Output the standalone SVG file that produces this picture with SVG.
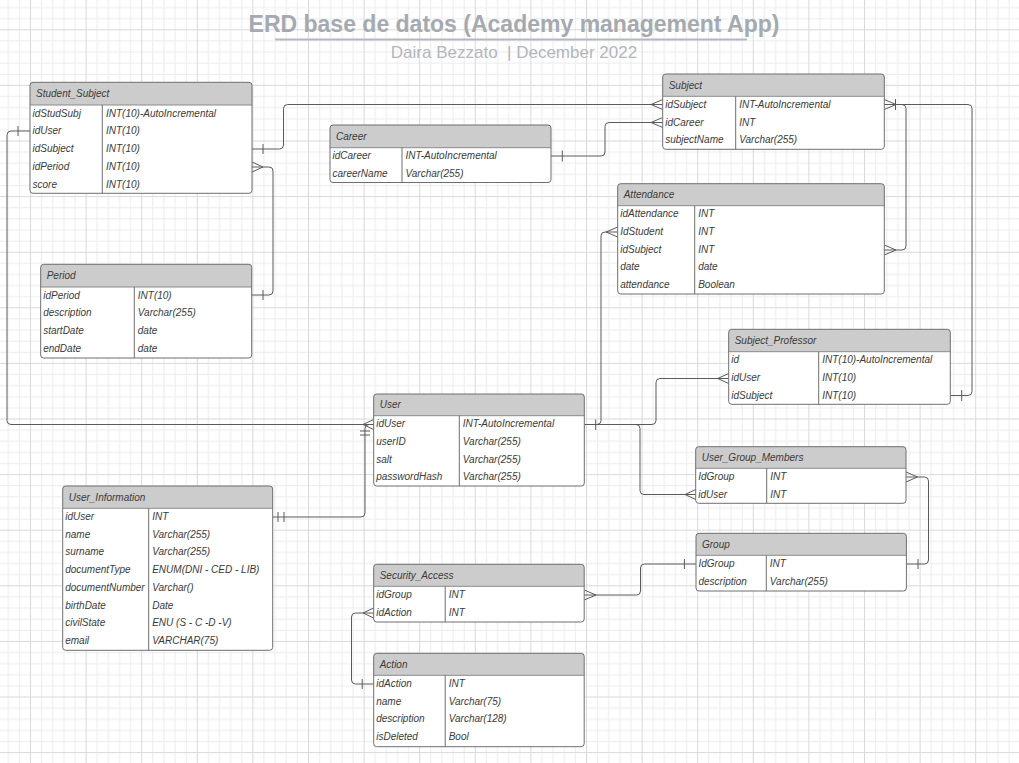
<svg xmlns="http://www.w3.org/2000/svg" width="1019" height="763" viewBox="0 0 1019 763">
<style>
.box{fill:#ffffff;stroke:none}
.frame{fill:none;stroke:#6e6e6e;stroke-width:1}
.hdr{fill:#cccccc}
.sep{stroke:#8a8a8a;stroke-width:1}
.col{stroke:#6e6e6e;stroke-width:1}
text{font-family:"Liberation Sans",Arial,sans-serif}
.h,.r{font-size:10px;font-style:italic;fill:#3a3a3a}
.conn path{fill:none;stroke:#5a5a5a;stroke-width:1}
.title{font-size:23px;font-weight:bold;fill:#a5a9b0}
.sub{font-size:17px;fill:#b2b6bd}
</style>
<defs>
<pattern id="grid" x="30" y="29.3" width="55.6" height="55.6" patternUnits="userSpaceOnUse">
<g fill="#ececec">
<rect x="11.12" y="0" width="1" height="55.6"/>
<rect x="22.24" y="0" width="1" height="55.6"/>
<rect x="33.36" y="0" width="1" height="55.6"/>
<rect x="44.48" y="0" width="1" height="55.6"/>
<rect x="0" y="11.12" width="55.6" height="1"/>
<rect x="0" y="22.24" width="55.6" height="1"/>
<rect x="0" y="33.36" width="55.6" height="1"/>
<rect x="0" y="44.48" width="55.6" height="1"/>
</g>
<g fill="#d9d9d9">
<rect x="0" y="0" width="1" height="55.6"/>
<rect x="0" y="0" width="55.6" height="1"/>
</g>
</pattern>
</defs>
<rect x="0" y="0" width="1019" height="763" fill="#ffffff"/>
<rect x="0" y="0" width="1019" height="763" fill="url(#grid)"/>

<g id="title">
<text class="title" x="514" y="32" text-anchor="middle">ERD base de datos (Academy management App)</text>
<line x1="275" y1="39.5" x2="747" y2="39.5" stroke="#b3b7bf" stroke-width="2"/>
<text class="sub" x="514" y="57.5" text-anchor="middle" xml:space="preserve">Daira Bezzato  | December 2022</text>
</g>

<g id="connectors" class="conn">
<!-- Student_Subject.idUser - User.idUser -->
<path d="M30,131 H11 Q7,131 7,135 V420.5 Q7,424.5 11,424.5 H373.7"/>
<path d="M18,126 V136"/>
<path d="M363,424.5 L373.7,419.5 M363,424.5 L373.7,429.5"/>
<!-- User_Information.idUser - User.idUser -->
<path d="M272.7,517 H361 Q365,517 365,513 V428.5 Q365,424.5 369,424.5 H373.7"/>
<path d="M278,512 V522 M284,512 V522"/>
<path d="M360,431 H370 M360,435 H370"/>
<!-- Student_Subject.idSubject - Subject.idSubject -->
<path d="M252,149 H279.5 Q283.5,149 283.5,145 V108.5 Q283.5,104.5 287.5,104.5 H662.7"/>
<path d="M263,144 V154"/>
<path d="M651,104.5 L662.7,99.5 M651,104.5 L662.7,109.5"/>
<!-- Career.idCareer - Subject.idCareer -->
<path d="M551,156 H601 Q605,156 605,152 V126.5 Q605,122.5 609,122.5 H662.7"/>
<path d="M562.3,150.5 V161.5"/>
<path d="M651,122.5 L662.7,117.5 M651,122.5 L662.7,127.5"/>
<!-- Student_Subject.idPeriod - Period.idPeriod -->
<path d="M252,167 H269 Q273,167 273,171 V291 Q273,295 269,295 H251.7"/>
<path d="M263,167 L252,162 M263,167 L252,172"/>
<path d="M263,290 V300"/>
<!-- Subject.idSubject - Attendance.idSubject -->
<path d="M884.3,104.5 H902 Q906,104.5 906,108.5 V246 Q906,250 902,250 H884.3"/>
<path d="M896,250 L884.3,245 M896,250 L884.3,255"/>
<path d="M896,104.5 L884.3,99.5 M896,104.5 L884.3,109.5"/>
<!-- Subject.idSubject - Subject_Professor.idSubject -->
<path d="M884.3,104.5 H968 Q972,104.5 972,108.5 V391.5 Q972,395.5 968,395.5 H950.3"/>
<path d="M895.5,99 V110"/>
<path d="M961.7,390 V401"/>
<!-- User.idUser - Attendance.IdStudent -->
<path d="M584.3,424.5 H597 Q601,424.5 601,420.5 V236 Q601,232 605,232 H617.7"/>
<path d="M606,232 L617.7,227 M606,232 L617.7,237"/>
<path d="M595.7,419.5 V430"/>
<!-- User.idUser - Subject_Professor.idUser -->
<path d="M584.3,424.5 H652 Q656,424.5 656,420.5 V382.5 Q656,378.5 660,378.5 H728.7"/>
<path d="M717.7,378.5 L728.7,373.5 M717.7,378.5 L728.7,383.5"/>
<!-- User.idUser - User_Group_Members.idUser -->
<path d="M584.3,424.5 H636 Q640,424.5 640,428.5 V490.5 Q640,494.5 644,494.5 H695.7"/>
<path d="M685,494.5 L695.7,489.5 M685,494.5 L695.7,499.5"/>
<!-- User_Group_Members.IdGroup - Group.IdGroup -->
<path d="M906,477 H924.5 Q928.5,477 928.5,481 V560 Q928.5,564 924.5,564 H906.4"/>
<path d="M917.5,477 L906,472 M917.5,477 L906,482"/>
<path d="M918,559 V569"/>
<!-- Group.IdGroup - Security_Access.idGroup -->
<path d="M696,564 H644.5 Q640.5,564 640.5,568 V591 Q640.5,595 636.5,595 H584.2"/>
<path d="M684.4,559 V569"/>
<path d="M596,595 L584.2,590 M596,595 L584.2,600"/>
<!-- Action.idAction - Security_Access.idAction -->
<path d="M373.7,684 H355.5 Q351.5,684 351.5,680 V617 Q351.5,613 355.5,613 H373.7"/>
<path d="M363,613 L373.7,608 M363,613 L373.7,618"/>
<path d="M362.2,679 V689"/>
</g>

<g id="student_subject">
<rect class="box" x="30" y="82.3" width="222" height="111" rx="3"/>
<path class="hdr" d="M30,105 V85.3 A3,3 0 0 1 33,82.3 H249 A3,3 0 0 1 252,85.3 V105 Z"/>
<line class="sep" x1="30" y1="105" x2="252" y2="105"/>
<line class="col" x1="102.3" y1="105" x2="102.3" y2="193.3"/>
<rect class="frame" x="30" y="82.3" width="222" height="111" rx="3"/>
<text class="h" x="36" y="97.2">Student_Subject</text>
<text class="r" x="32.5" y="116.5">idStudSubj</text><text class="r" x="106" y="116.5">INT(10)-AutoIncremental</text>
<text class="r" x="32.5" y="134.25">idUser</text><text class="r" x="106" y="134.25">INT(10)</text>
<text class="r" x="32.5" y="152">idSubject</text><text class="r" x="106" y="152">INT(10)</text>
<text class="r" x="32.5" y="169.75">idPeriod</text><text class="r" x="106" y="169.75">INT(10)</text>
<text class="r" x="32.5" y="187.5">score</text><text class="r" x="106" y="187.5">INT(10)</text>
</g>

<g id="period">
<rect class="box" x="40.7" y="264.3" width="211" height="93.7" rx="3"/>
<path class="hdr" d="M40.7,287 V267.3 A3,3 0 0 1 43.7,264.3 H248.7 A3,3 0 0 1 251.7,267.3 V287 Z"/>
<line class="sep" x1="40.7" y1="287" x2="251.7" y2="287"/>
<line class="col" x1="134.3" y1="287" x2="134.3" y2="358"/>
<rect class="frame" x="40.7" y="264.3" width="211" height="93.7" rx="3"/>
<text class="h" x="46.7" y="279.2">Period</text>
<text class="r" x="43.2" y="298.5">idPeriod</text><text class="r" x="137.8" y="298.5">INT(10)</text>
<text class="r" x="43.2" y="316.25">description</text><text class="r" x="137.8" y="316.25">Varchar(255)</text>
<text class="r" x="43.2" y="334">startDate</text><text class="r" x="137.8" y="334">date</text>
<text class="r" x="43.2" y="351.75">endDate</text><text class="r" x="137.8" y="351.75">date</text>
</g>

<g id="career">
<rect class="box" x="330" y="125" width="221" height="57.5" rx="3"/>
<path class="hdr" d="M330,147.7 V128 A3,3 0 0 1 333,125 H548 A3,3 0 0 1 551,128 V147.7 Z"/>
<line class="sep" x1="330" y1="147.7" x2="551" y2="147.7"/>
<line class="col" x1="402" y1="147.7" x2="402" y2="182.5"/>
<rect class="frame" x="330" y="125" width="221" height="57.5" rx="3"/>
<text class="h" x="336" y="139.9">Career</text>
<text class="r" x="332.5" y="159.2">idCareer</text><text class="r" x="405.5" y="159.2">INT-AutoIncremental</text>
<text class="r" x="332.5" y="176.95">careerName</text><text class="r" x="405.5" y="176.95">Varchar(255)</text>
</g>

<g id="subject">
<rect class="box" x="662.7" y="74" width="221.6" height="75.3" rx="3"/>
<path class="hdr" d="M662.7,96.3 V77 A3,3 0 0 1 665.7,74 H881.3 A3,3 0 0 1 884.3,77 V96.3 Z"/>
<line class="sep" x1="662.7" y1="96.3" x2="884.3" y2="96.3"/>
<line class="col" x1="735.7" y1="96.3" x2="735.7" y2="149.3"/>
<rect class="frame" x="662.7" y="74" width="221.6" height="75.3" rx="3"/>
<text class="h" x="668.7" y="88.7">Subject</text>
<text class="r" x="665.2" y="107.8">idSubject</text><text class="r" x="739.2" y="107.8">INT-AutoIncremental</text>
<text class="r" x="665.2" y="125.55">idCareer</text><text class="r" x="739.2" y="125.55">INT</text>
<text class="r" x="665.2" y="143.3">subjectName</text><text class="r" x="739.2" y="143.3">Varchar(255)</text>
</g>

<g id="attendance">
<rect class="box" x="617.7" y="183.7" width="266.6" height="110.3" rx="3"/>
<path class="hdr" d="M617.7,205.7 V186.7 A3,3 0 0 1 620.7,183.7 H881.3 A3,3 0 0 1 884.3,186.7 V205.7 Z"/>
<line class="sep" x1="617.7" y1="205.7" x2="884.3" y2="205.7"/>
<line class="col" x1="694.7" y1="205.7" x2="694.7" y2="294"/>
<rect class="frame" x="617.7" y="183.7" width="266.6" height="110.3" rx="3"/>
<text class="h" x="623.7" y="198.2">Attendance</text>
<text class="r" x="620.2" y="217.2">idAttendance</text><text class="r" x="698.2" y="217.2">INT</text>
<text class="r" x="620.2" y="234.95">IdStudent</text><text class="r" x="698.2" y="234.95">INT</text>
<text class="r" x="620.2" y="252.7">idSubject</text><text class="r" x="698.2" y="252.7">INT</text>
<text class="r" x="620.2" y="270.45">date</text><text class="r" x="698.2" y="270.45">date</text>
<text class="r" x="620.2" y="288.2">attendance</text><text class="r" x="698.2" y="288.2">Boolean</text>
</g>

<g id="subject_professor">
<rect class="box" x="728.7" y="329.3" width="221.6" height="75" rx="3"/>
<path class="hdr" d="M728.7,351.7 V332.3 A3,3 0 0 1 731.7,329.3 H947.3 A3,3 0 0 1 950.3,332.3 V351.7 Z"/>
<line class="sep" x1="728.7" y1="351.7" x2="950.3" y2="351.7"/>
<line class="col" x1="818.7" y1="351.7" x2="818.7" y2="404.3"/>
<rect class="frame" x="728.7" y="329.3" width="221.6" height="75" rx="3"/>
<text class="h" x="734.7" y="344">Subject_Professor</text>
<text class="r" x="731.2" y="363.2">id</text><text class="r" x="822.2" y="363.2">INT(10)-AutoIncremental</text>
<text class="r" x="731.2" y="380.95">idUser</text><text class="r" x="822.2" y="380.95">INT(10)</text>
<text class="r" x="731.2" y="398.7">idSubject</text><text class="r" x="822.2" y="398.7">INT(10)</text>
</g>

<g id="user">
<rect class="box" x="373.7" y="394" width="210.6" height="92" rx="3"/>
<path class="hdr" d="M373.7,415.7 V397 A3,3 0 0 1 376.7,394 H581.3 A3,3 0 0 1 584.3,397 V415.7 Z"/>
<line class="sep" x1="373.7" y1="415.7" x2="584.3" y2="415.7"/>
<line class="col" x1="459.3" y1="415.7" x2="459.3" y2="486"/>
<rect class="frame" x="373.7" y="394" width="210.6" height="92" rx="3"/>
<text class="h" x="379.7" y="408.4">User</text>
<text class="r" x="376.2" y="427.2">idUser</text><text class="r" x="462.8" y="427.2">INT-AutoIncremental</text>
<text class="r" x="376.2" y="444.95">userID</text><text class="r" x="462.8" y="444.95">Varchar(255)</text>
<text class="r" x="376.2" y="462.7">salt</text><text class="r" x="462.8" y="462.7">Varchar(255)</text>
<text class="r" x="376.2" y="480.45">passwordHash</text><text class="r" x="462.8" y="480.45">Varchar(255)</text>
</g>

<g id="user_group_members">
<rect class="box" x="695.7" y="446.7" width="210.3" height="56.6" rx="3"/>
<path class="hdr" d="M695.7,468.3 V449.7 A3,3 0 0 1 698.7,446.7 H903 A3,3 0 0 1 906,449.7 V468.3 Z"/>
<line class="sep" x1="695.7" y1="468.3" x2="906" y2="468.3"/>
<line class="col" x1="766.7" y1="468.3" x2="766.7" y2="503.3"/>
<rect class="frame" x="695.7" y="446.7" width="210.3" height="56.6" rx="3"/>
<text class="h" x="701.7" y="461">User_Group_Members</text>
<text class="r" x="698.2" y="479.8">IdGroup</text><text class="r" x="770.2" y="479.8">INT</text>
<text class="r" x="698.2" y="497.55">idUser</text><text class="r" x="770.2" y="497.55">INT</text>
</g>

<g id="user_information">
<rect class="box" x="62.7" y="486" width="210" height="164.3" rx="3"/>
<path class="hdr" d="M62.7,508.3 V489 A3,3 0 0 1 65.7,486 H269.7 A3,3 0 0 1 272.7,489 V508.3 Z"/>
<line class="sep" x1="62.7" y1="508.3" x2="272.7" y2="508.3"/>
<line class="col" x1="148.7" y1="508.3" x2="148.7" y2="650.3"/>
<rect class="frame" x="62.7" y="486" width="210" height="164.3" rx="3"/>
<text class="h" x="68.7" y="500.7">User_Information</text>
<text class="r" x="65.2" y="519.8">idUser</text><text class="r" x="152.2" y="519.8">INT</text>
<text class="r" x="65.2" y="537.55">name</text><text class="r" x="152.2" y="537.55">Varchar(255)</text>
<text class="r" x="65.2" y="555.3">surname</text><text class="r" x="152.2" y="555.3">Varchar(255)</text>
<text class="r" x="65.2" y="573.05">documentType</text><text class="r" x="152.2" y="573.05">ENUM(DNI - CED - LIB)</text>
<text class="r" x="65.2" y="590.8">documentNumber</text><text class="r" x="152.2" y="590.8">Varchar()</text>
<text class="r" x="65.2" y="608.55">birthDate</text><text class="r" x="152.2" y="608.55">Date</text>
<text class="r" x="65.2" y="626.3">civilState</text><text class="r" x="152.2" y="626.3">ENU (S - C -D -V)</text>
<text class="r" x="65.2" y="644.05">email</text><text class="r" x="152.2" y="644.05">VARCHAR(75)</text>
</g>

<g id="group">
<rect class="box" x="696" y="533.3" width="210.4" height="57.7" rx="3"/>
<path class="hdr" d="M696,555.3 V536.3 A3,3 0 0 1 699,533.3 H903.4 A3,3 0 0 1 906.4,536.3 V555.3 Z"/>
<line class="sep" x1="696" y1="555.3" x2="906.4" y2="555.3"/>
<line class="col" x1="766.3" y1="555.3" x2="766.3" y2="591"/>
<rect class="frame" x="696" y="533.3" width="210.4" height="57.7" rx="3"/>
<text class="h" x="702" y="547.8">Group</text>
<text class="r" x="698.5" y="566.8">IdGroup</text><text class="r" x="769.8" y="566.8">INT</text>
<text class="r" x="698.5" y="584.55">description</text><text class="r" x="769.8" y="584.55">Varchar(255)</text>
</g>

<g id="security_access">
<rect class="box" x="373.7" y="564.3" width="210.5" height="57.7" rx="3"/>
<path class="hdr" d="M373.7,586.3 V567.3 A3,3 0 0 1 376.7,564.3 H581.2 A3,3 0 0 1 584.2,567.3 V586.3 Z"/>
<line class="sep" x1="373.7" y1="586.3" x2="584.2" y2="586.3"/>
<line class="col" x1="445.2" y1="586.3" x2="445.2" y2="622"/>
<rect class="frame" x="373.7" y="564.3" width="210.5" height="57.7" rx="3"/>
<text class="h" x="379.7" y="578.8">Security_Access</text>
<text class="r" x="376.2" y="597.8">idGroup</text><text class="r" x="448.7" y="597.8">INT</text>
<text class="r" x="376.2" y="615.55">idAction</text><text class="r" x="448.7" y="615.55">INT</text>
</g>

<g id="action">
<rect class="box" x="373.7" y="653.3" width="210.5" height="93.4" rx="3"/>
<path class="hdr" d="M373.7,675.3 V656.3 A3,3 0 0 1 376.7,653.3 H581.2 A3,3 0 0 1 584.2,656.3 V675.3 Z"/>
<line class="sep" x1="373.7" y1="675.3" x2="584.2" y2="675.3"/>
<line class="col" x1="445.2" y1="675.3" x2="445.2" y2="746.7"/>
<rect class="frame" x="373.7" y="653.3" width="210.5" height="93.4" rx="3"/>
<text class="h" x="379.7" y="667.8">Action</text>
<text class="r" x="376.2" y="686.8">idAction</text><text class="r" x="448.7" y="686.8">INT</text>
<text class="r" x="376.2" y="704.55">name</text><text class="r" x="448.7" y="704.55">Varchar(75)</text>
<text class="r" x="376.2" y="722.3">description</text><text class="r" x="448.7" y="722.3">Varchar(128)</text>
<text class="r" x="376.2" y="740.05">isDeleted</text><text class="r" x="448.7" y="740.05">Bool</text>
</g>
</svg>
